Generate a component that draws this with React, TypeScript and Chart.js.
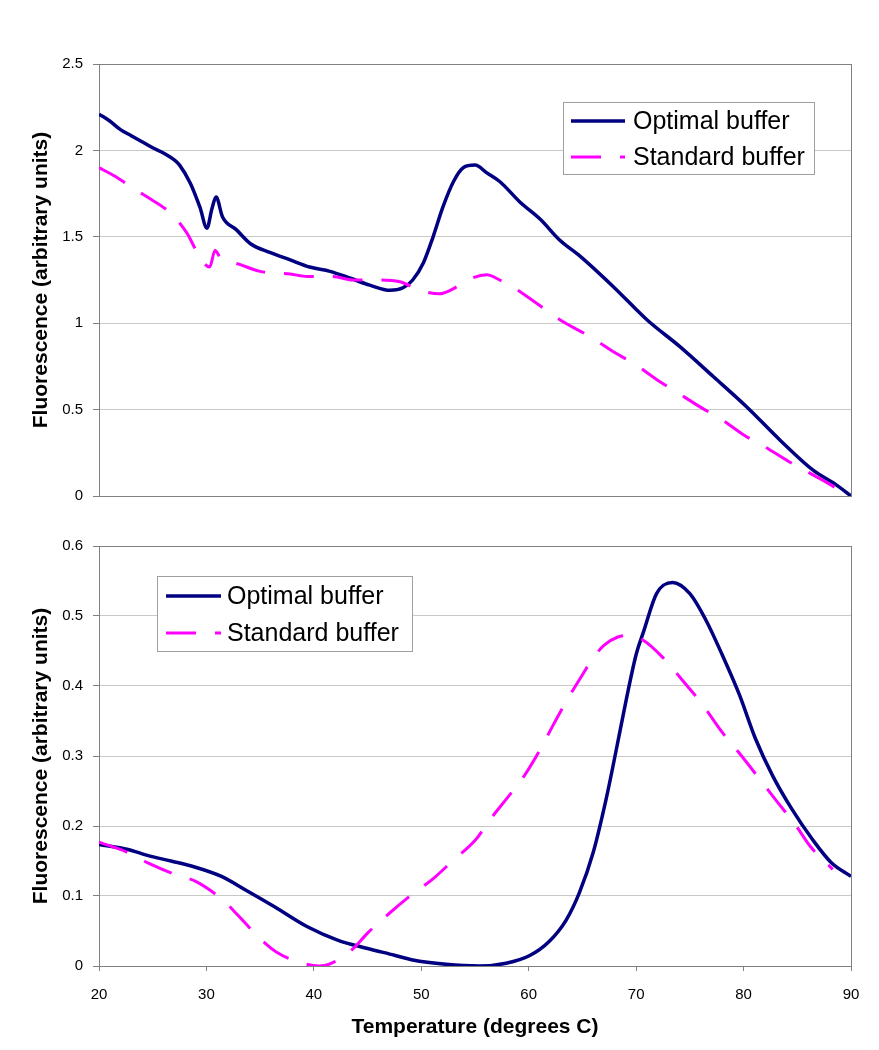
import { useEffect, useRef } from "react";
import { Chart, registerables } from "chart.js";

Chart.register(...registerables);

const FONT = "'Liberation Sans', Arial, Helvetica, sans-serif";

const seriesLabels = ["Optimal buffer", "Standard buffer"];
const xTicks = [20, 30, 40, 50, 60, 70, 80, 90];
const yTicksTop = [0, 0.5, 1, 1.5, 2, 2.5];
const yTicksBottom = [0, 0.1, 0.2, 0.3, 0.4, 0.5, 0.6];
const xTitle = "Temperature (degrees C)";
const yTitle = "Fluorescence (arbitrary units)";

// Top panel: Optimal buffer
const topOptimalT = [20, 21, 22, 23, 24, 25, 26, 27, 27.5, 28.5, 29.4, 30.05, 30.5, 30.9, 31.5, 32.8, 34.1, 35.9, 37.8, 39.6, 41.5, 43.4, 45.2, 47.1, 48.3, 49.2, 50.2, 51.1, 52.0, 53.0, 53.9, 55.0, 56.1, 57.3, 59.2, 61.1, 62.9, 64.8, 67.9, 71.0, 74.1, 77.2, 80.3, 83.4, 86.5, 88.5, 90];
const topOptimalF = [2.21, 2.17, 2.12, 2.085, 2.05, 2.015, 1.985, 1.945, 1.915, 1.81, 1.67, 1.55, 1.66, 1.73, 1.615, 1.54, 1.46, 1.41, 1.366, 1.325, 1.3, 1.26, 1.22, 1.19, 1.205, 1.25, 1.35, 1.5, 1.67, 1.82, 1.9, 1.915, 1.87, 1.82, 1.7, 1.6, 1.48, 1.387, 1.21, 1.02, 0.863, 0.69, 0.515, 0.323, 0.148, 0.07, 0.0];

// Top panel: Standard buffer
const topStandardT = [20, 21.5, 22.6, 24.5, 26.6, 28.2, 29.4, 30.3, 30.8, 31.3, 33.1, 35, 37.8, 39.4, 41.8, 43.6, 45.9, 48, 49.9, 51.7, 53, 54.3, 56.1, 57.3, 58.5, 60.4, 62.9, 65.9, 68, 69.7, 72, 73.8, 76.1, 77.8, 80.1, 81.7, 84.2, 85.7, 88.5, 89.2];
const topStandardF = [1.9, 1.85, 1.805, 1.73, 1.64, 1.52, 1.38, 1.325, 1.42, 1.38, 1.34, 1.3, 1.285, 1.27, 1.27, 1.25, 1.25, 1.24, 1.19, 1.17, 1.2, 1.25, 1.28, 1.25, 1.21, 1.13, 1.02, 0.915, 0.83, 0.77, 0.67, 0.6, 0.51, 0.45, 0.35, 0.295, 0.2, 0.148, 0.05, 0.02];

// Bottom panel: Optimal buffer
const bottomOptimalT = [20, 22.7, 24.5, 26.7, 28.9, 31.4, 33.6, 36.3, 39.4, 42.2, 45.0, 47.5, 49.2, 52.3, 55.4, 57.9, 60.1, 61.9, 63.5, 64.7, 66.0, 67.2, 68.1, 69.1, 70.0, 70.7, 71.9, 73.4, 75.0, 76.5, 78.0, 79.6, 81.1, 82.7, 84.5, 86.4, 88.2, 90];
const bottomOptimalF = [0.1737, 0.1665, 0.158, 0.15, 0.1415, 0.128, 0.109, 0.085, 0.056, 0.037, 0.025, 0.0154, 0.0086, 0.0024, 0.0, 0.004, 0.015, 0.035, 0.066, 0.104, 0.162, 0.238, 0.305, 0.382, 0.445, 0.478, 0.532, 0.548, 0.532, 0.494, 0.445, 0.388, 0.325, 0.272, 0.224, 0.181, 0.147, 0.128];

// Bottom panel: Standard buffer
const bottomStandardT = [20, 22.7, 24.6, 27.2, 29.0, 31.5, 32.9, 34.8, 36.5, 39.1, 40.5, 41.5, 43.5, 45.0, 47.0, 48.7, 51.2, 52.9, 55.1, 56.3, 58.3, 59.6, 61.1, 62.2, 63.5, 64.8, 66.0, 67.0, 68.3, 69.4, 70.7, 72.4, 74.7, 76.1, 78.0, 79.5, 81.5, 82.9, 84.9, 86.2, 88.3];
const bottomStandardF = [0.177, 0.162, 0.147, 0.13, 0.121, 0.0945, 0.073, 0.042, 0.02, 0.0035, 0.0, 0.003, 0.0226, 0.047, 0.075, 0.097, 0.126, 0.15, 0.181, 0.207, 0.246, 0.272, 0.31, 0.342, 0.378, 0.411, 0.44, 0.458, 0.47, 0.472, 0.465, 0.442, 0.401, 0.375, 0.334, 0.306, 0.267, 0.239, 0.2, 0.171, 0.138];

const NAVY = "#000080";
const MAGENTA = "#FF00FF";
const GRID = "#c8c8c8";
const FRAME = "#808080";

const pts = (xs: number[], ys: number[]) => xs.map((x, i) => ({ x, y: ys[i] }));

const frame = {
  id: "plotFrame",
  beforeDatasetsDraw(chart: any) {
    const { ctx, chartArea } = chart;
    ctx.save();
    ctx.strokeStyle = FRAME;
    ctx.lineWidth = 1;
    ctx.strokeRect(
      Math.round(chartArea.left) + 0.5,
      Math.round(chartArea.top) + 0.5,
      Math.round(chartArea.right) - Math.round(chartArea.left),
      Math.round(chartArea.bottom) - Math.round(chartArea.top)
    );
    ctx.restore();
  },
};

const boxLegend = {
  id: "boxLegend",
  afterDatasetsDraw(chart: any, _args: any, opts: any) {
    const ctx = chart.ctx;
    ctx.save();
    ctx.fillStyle = "#ffffff";
    ctx.fillRect(opts.x, opts.y, opts.w, opts.h);
    ctx.strokeStyle = "#a0a0a0";
    ctx.lineWidth = 1;
    ctx.strokeRect(opts.x + 0.5, opts.y + 0.5, opts.w, opts.h);
    const sets = chart.data.datasets;
    for (let i = 0; i < sets.length; i++) {
      const ds = sets[i];
      const cy = opts.rows[i];
      ctx.strokeStyle = ds.borderColor;
      ctx.lineWidth = ds.borderWidth;
      ctx.lineCap = "butt";
      ctx.setLineDash(ds.borderDash || []);
      ctx.beginPath();
      ctx.moveTo(opts.sx0, cy);
      ctx.lineTo(opts.sx1, cy);
      ctx.stroke();
      ctx.setLineDash([]);
      ctx.fillStyle = "#000000";
      ctx.font = `25px ${FONT}`;
      ctx.textBaseline = "middle";
      ctx.textAlign = "left";
      ctx.fillText(ds.label, opts.tx, cy + 1);
    }
    ctx.restore();
  },
};

function makeConfig(opt: {
  optT: number[];
  optF: number[];
  stdT: number[];
  stdF: number[];
  yTicks: number[];
  padTop: number;
  xHeight: number;
  showX: boolean;
  legend: any;
}): any {
  return {
    type: "line",
    data: {
      datasets: [
        {
          label: seriesLabels[0],
          data: pts(opt.optT, opt.optF),
          borderColor: NAVY,
          backgroundColor: NAVY,
          borderWidth: 3.5,
          pointRadius: 0,
          cubicInterpolationMode: "monotone",
          order: 1,
        },
        {
          label: seriesLabels[1],
          data: pts(opt.stdT, opt.stdF),
          borderColor: MAGENTA,
          backgroundColor: MAGENTA,
          borderWidth: 3,
          borderDash: [30, 19],
          pointRadius: 0,
          cubicInterpolationMode: "monotone",
          order: 0,
        },
      ],
    },
    options: {
      responsive: false,
      animation: false,
      events: [],
      layout: { padding: { left: 0, right: 28, top: opt.padTop, bottom: 0 } },
      plugins: {
        legend: { display: false },
        tooltip: { enabled: false },
        boxLegend: opt.legend,
      },
      scales: {
        x: {
          type: "linear",
          min: xTicks[0],
          max: xTicks[xTicks.length - 1],
          afterBuildTicks: (s: any) => {
            s.ticks = xTicks.map((v) => ({ value: v }));
          },
          afterFit: (s: any) => {
            s.height = opt.xHeight;
          },
          border: { display: false },
          grid: {
            display: opt.showX,
            drawOnChartArea: false,
            drawTicks: true,
            tickLength: 5,
            tickColor: FRAME,
          },
          ticks: {
            display: opt.showX,
            color: "#000000",
            padding: 15,
            maxRotation: 0,
            autoSkip: false,
            font: { family: FONT, size: 15 },
            callback: (v: any) => String(v),
          },
          title: {
            display: opt.showX,
            text: xTitle,
            color: "#000000",
            font: { family: FONT, size: 21, weight: "bold" },
            padding: { top: 0, bottom: 10 },
          },
        },
        y: {
          type: "linear",
          min: opt.yTicks[0],
          max: opt.yTicks[opt.yTicks.length - 1],
          afterBuildTicks: (s: any) => {
            s.ticks = opt.yTicks.map((v) => ({ value: v }));
          },
          afterFit: (s: any) => {
            s.width = 99;
          },
          border: { display: false },
          grid: {
            display: true,
            drawOnChartArea: true,
            drawTicks: true,
            tickLength: 6,
            color: GRID,
            tickColor: FRAME,
            lineWidth: 1,
          },
          ticks: {
            color: "#000000",
            padding: 10,
            autoSkip: false,
            font: { family: FONT, size: 15 },
            callback: (v: any) => String(v),
          },
          title: {
            display: true,
            text: yTitle,
            color: "#000000",
            font: { family: FONT, size: 21, weight: "bold" },
            padding: { top: 29, bottom: 0 },
          },
        },
      },
    },
    plugins: [frame, boxLegend],
  };
}

export default function App() {
  const topRef = useRef<HTMLCanvasElement | null>(null);
  const botRef = useRef<HTMLCanvasElement | null>(null);

  useEffect(() => {
    const top = new Chart(
      topRef.current as HTMLCanvasElement,
      makeConfig({
        optT: topOptimalT,
        optF: topOptimalF,
        stdT: topStandardT,
        stdF: topStandardF,
        yTicks: yTicksTop,
        padTop: 64,
        xHeight: 24,
        showX: false,
        legend: { x: 563, y: 102, w: 251, h: 72, rows: [121, 157], sx0: 571, sx1: 625, tx: 633 },
      })
    );
    const bottom = new Chart(
      botRef.current as HTMLCanvasElement,
      makeConfig({
        optT: bottomOptimalT,
        optF: bottomOptimalF,
        stdT: bottomStandardT,
        stdF: bottomStandardF,
        yTicks: yTicksBottom,
        padTop: 26,
        xHeight: 84,
        showX: true,
        legend: { x: 157, y: 56, w: 255, h: 75, rows: [76, 113], sx0: 166, sx1: 221, tx: 227 },
      })
    );
    return () => {
      top.destroy();
      bottom.destroy();
    };
  }, []);

  return (
    <div
      style={{
        position: "absolute",
        left: 0,
        top: 0,
        width: 879,
        height: 1050,
        background: "#ffffff",
        overflow: "hidden",
      }}
    >
      <canvas
        ref={topRef}
        width={879}
        height={520}
        style={{ position: "absolute", left: 0, top: 0, width: 879, height: 520, display: "block" }}
      />
      <canvas
        ref={botRef}
        width={879}
        height={530}
        style={{ position: "absolute", left: 0, top: 520, width: 879, height: 530, display: "block" }}
      />
    </div>
  );
}
